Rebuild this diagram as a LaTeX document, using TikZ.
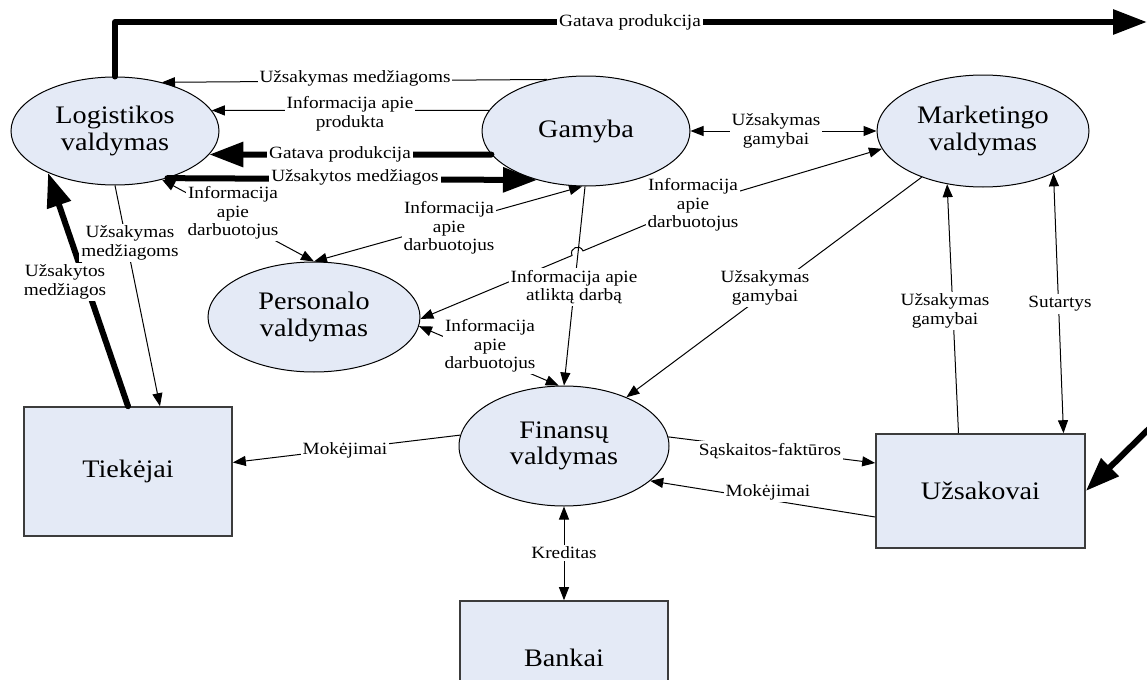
\documentclass[tikz,border=0pt]{standalone}
\usepackage{fontspec}
\setmainfont[FakeStretch=1.12]{Liberation Serif}
\usetikzlibrary{arrows.meta,shapes.geometric,calc}
\definecolor{boxfill}{RGB}{228,234,246}
\definecolor{boxline}{RGB}{60,60,60}
\newcommand\entityfont{\fontsize{12.6}{13.2}\selectfont}
\newcommand\flowfont{\fontsize{8.6}{9.3}\selectfont}

\begin{document}
\begin{tikzpicture}[x=0.5pt,y=-0.5pt,
  proc/.style={ellipse, draw=black, line width=0.5pt, fill=boxfill, inner sep=0pt, align=center, font=\entityfont},
  ext/.style={rectangle, draw=boxline, line width=0.8pt, fill=boxfill, inner sep=0pt, align=center, font=\entityfont},
  lbl/.style={fill=white, inner sep=1pt, align=center, font=\flowfont},
  flowarrow/.style={line width=0.5pt, -{Triangle[length=6.5pt,width=5pt]}},
  flowboth/.style={line width=0.5pt, {Triangle[length=6.5pt,width=5pt]}-{Triangle[length=6.5pt,width=5pt]}},
  heavyflow/.style={line width=3pt, line cap=round, line join=round, -{Triangle[length=17pt,width=12pt]}},
]
\useasboundingbox (0,0) rectangle (1147,680);
\clip (0,0) rectangle (1147,680);

% processes and external entities
\node[proc, minimum width=104pt, minimum height=54pt] (log) at (115,131) {Logistikos\\valdymas};
\node[proc, minimum width=104pt, minimum height=55pt] (gam) at (586,131) {Gamyba};
\node[proc, minimum width=106pt, minimum height=56pt] (mkt) at (983,131) {Marketingo\\valdymas};
\node[proc, minimum width=106pt, minimum height=55pt] (per) at (314,317) {Personalo\\valdymas};
\node[proc, minimum width=105pt, minimum height=60pt] (fin) at (564,446) {Finansų\\valdymas};
\node[ext, minimum width=104pt, minimum height=64.5pt] (tie) at (128,471.5) {Tiekėjai};
\node[ext, minimum width=104.5pt, minimum height=57pt] (uzs) at (980.5,491) {Užsakovai};
\node[ext, minimum width=104pt, minimum height=57pt] (ban) at (564,658) {Bankai};

% helper points
\coordinate (topend) at (1147,22);
\coordinate (rin) at (1165,413);
\coordinate (lab8pt) at (693,205);
\coordinate (hopA) at (572.0,255.5);
\coordinate (hopB) at (583.0,250.9);
\coordinate (hopC1) at (568.9,248.1);
\coordinate (hopC2) at (579.9,243.5);

% flows
\draw[heavyflow] (log.north) |- (topend);
\draw[flowarrow] (gam.127) -- (log.46);
\draw[flowarrow] (gam.168) -- (log.12);
\draw[heavyflow] (gam.194) -- (log.-14);
\draw[heavyflow] (log.-42) -- (gam.225);
\draw[flowboth] (log.-46) -- (per.north);
\draw[flowboth] (gam.266) -- (per.north);
\draw[flowboth] (gam.east) -- (mkt.west);
\draw[flowboth] (per.-1) -- (hopA) .. controls (hopC1) and (hopC2) .. (hopB) -- (lab8pt) -- (mkt.190);
\draw[flowboth] (per.-5) -- (fin.95);
\draw[flowarrow] (gam.269) -- (fin.north);
\draw[flowarrow] (mkt.217) -- (fin.38);
\draw[flowarrow] ($(uzs.north)+(-22,0)$) -- (mkt.236);
\draw[flowboth] (mkt.-31) -- ($(uzs.north)+(83,0)$);
\draw[flowarrow] (fin.174) -- ($(tie.east)+(0,-9)$);
\draw[flowarrow] (fin.5) -- ($(uzs.west)+(0,-28)$);
\draw[flowarrow] ($(uzs.west)+(0,26)$) -- (fin.-22);
\draw[flowboth] (fin.south) -- (ban.north);
\draw[flowarrow] (log.south) -- ($(tie.north)+(32,0)$);
\draw[heavyflow] (tie.north) -- (log.212);
\draw[heavyflow] (rin) -- (uzs.east);

% flow labels
\node[lbl] (lt) at (630,22) {Gatava produkcija};
\node[lbl] (l1) at (355,78) {Užsakymas medžiagoms};
\node[lbl] (l2) at (350,114) {Informacija apie\\produkta};
\node[lbl] (l3) at (340,154) {Gatava produkcija};
\node[lbl] (l4) at (355,177) {Užsakytos medžiagos};
\node[lbl] (l5) at (233,213) {Informacija\\apie\\darbuotojus};
\node[lbl] (l6) at (449,228) {Informacija\\apie\\darbuotojus};
\node[lbl] (l7) at (776,131) {Užsakymas\\gamybai};
\node[lbl] (l8) at (lab8pt) {Informacija\\apie\\darbuotojus};
\node[lbl] (l9) at (490,346) {Informacija\\apie\\darbuotojus};
\node[lbl] (l10) at (574,287) {Informacija apie\\atliktą darbą};
\node[lbl] (l11) at (765,288) {Užsakymas\\gamybai};
\node[lbl] (l12) at (945,311) {Užsakymas\\gamybai};
\node[lbl] (l13) at (1060,304) {Sutartys};
\node[lbl] (l14) at (345,450) {Mokėjimai};
\node[lbl] (l15) at (770,451) {Sąskaitos-faktūros};
\node[lbl] (l16) at (768,492) {Mokėjimai};
\node[lbl] (l17) at (564,553) {Kreditas};
\node[lbl] (l18) at (130,243) {Užsakymas\\medžiagoms};
\node[lbl] (l19) at (65,282) {Užsakytos\\medžiagos};
\end{tikzpicture}
\end{document}
